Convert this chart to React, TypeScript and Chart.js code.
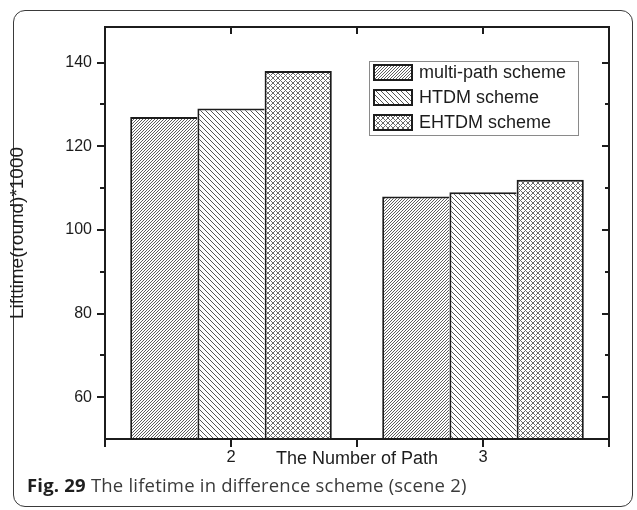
import { useEffect, useRef } from "react";
import { Chart, registerables } from "chart.js";

Chart.register(...registerables);

// ---- data ----
const categories = ["2", "3"];
const seriesNames = ["multi-path scheme", "HTDM scheme", "EHTDM scheme"];
const multiPathValues = [127, 108];
const htdmValues = [129, 109];
const ehtdmValues = [138, 112];
const yMajorTicks = [60, 80, 100, 120, 140];
const yMinorTicks = [70, 90, 110, 130];
const xTickValues = [1.5, 2, 2.5, 3, 3.5];
const xTopTickValues = [2, 2.5, 3];

const FONT = '"Liberation Sans", Arial, sans-serif';
const INK = "#1c1c1c";

function makePattern(kind: "fwd" | "back" | "cross", period: number, gray: number) {
  const c = document.createElement("canvas");
  c.width = period;
  c.height = period;
  const g = c.getContext("2d")!;
  const img = g.createImageData(period, period);
  for (let y = 0; y < period; y++) {
    for (let x = 0; x < period; x++) {
      const f = (x + y) % period === 0;
      const b = (((x - y) % period) + period) % period === 0;
      const on = kind === "fwd" ? f : kind === "back" ? b : f || b;
      const i = (y * period + x) * 4;
      const v = on ? gray : 255;
      img.data[i] = v;
      img.data[i + 1] = v;
      img.data[i + 2] = v;
      img.data[i + 3] = 255;
    }
  }
  g.putImageData(img, 0, 0);
  return g.createPattern(c, "repeat") as CanvasPattern;
}

const framePlugin = {
  id: "originFrame",
  afterDatasetsDraw(chart: any) {
    const { ctx, chartArea: a, scales } = chart;
    const y = scales.y;
    const xt = scales.xt;
    ctx.save();
    ctx.strokeStyle = INK;
    ctx.lineWidth = 2;
    ctx.strokeRect(a.left, a.top, a.right - a.left, a.bottom - a.top);
    ctx.beginPath();
    yMajorTicks.forEach((v) => {
      const p = Math.round(y.getPixelForValue(v));
      ctx.moveTo(a.left - 8, p);
      ctx.lineTo(a.left, p);
      ctx.moveTo(a.right, p);
      ctx.lineTo(a.right - 7, p);
    });
    yMinorTicks.forEach((v) => {
      const p = Math.round(y.getPixelForValue(v));
      ctx.moveTo(a.left - 5, p);
      ctx.lineTo(a.left, p);
      ctx.moveTo(a.right, p);
      ctx.lineTo(a.right - 4, p);
    });
    xTickValues.forEach((v) => {
      const p = Math.round(xt.getPixelForValue(v));
      ctx.moveTo(p, a.bottom);
      ctx.lineTo(p, a.bottom + 8);
    });
    xTopTickValues.forEach((v) => {
      const p = Math.round(xt.getPixelForValue(v));
      ctx.moveTo(p, a.top);
      ctx.lineTo(p, a.top + 7);
    });
    ctx.stroke();
    ctx.restore();
  },
};

const boxLegendPlugin = {
  id: "boxLegend",
  afterDraw(chart: any) {
    const { ctx, chartArea: a } = chart;
    const bx = a.left + 264;
    const by = a.top + 34;
    const bw = 209;
    const bh = 74;
    ctx.save();
    ctx.strokeStyle = "#8a8a8a";
    ctx.lineWidth = 1;
    ctx.fillStyle = "#ffffff";
    ctx.fillRect(bx, by, bw, bh);
    ctx.strokeRect(bx + 0.5, by + 0.5, bw, bh);
    chart.data.datasets.forEach((ds: any, i: number) => {
      const sy = by + 3 + i * 25;
      const sx = bx + 4;
      ctx.fillStyle = ds.backgroundColor;
      ctx.fillRect(sx, sy, 40, 17);
      ctx.strokeStyle = INK;
      ctx.lineWidth = 2;
      ctx.strokeRect(sx + 1, sy + 1, 38, 15);
      ctx.fillStyle = INK;
      ctx.font = `18px ${FONT}`;
      ctx.textBaseline = "middle";
      ctx.textAlign = "left";
      ctx.fillText(ds.label, bx + 50, sy + 9.5);
    });
    ctx.restore();
  },
};

export default function App() {
  const canvasRef = useRef<HTMLCanvasElement>(null);

  useEffect(() => {
    const canvas = canvasRef.current!;
    const patterns = [
      makePattern("fwd", 3, 95),
      makePattern("back", 5, 85),
      makePattern("cross", 5, 105),
    ];
    const values = [multiPathValues, htdmValues, ehtdmValues];
    const chart = new Chart(canvas, {
      type: "bar",
      data: {
        labels: categories,
        datasets: seriesNames.map((name, i) => ({
          label: name,
          data: values[i],
          backgroundColor: patterns[i],
          borderColor: INK,
          borderWidth:
            i === seriesNames.length - 1
              ? { top: 2, left: 2, right: 2, bottom: 0 }
              : { top: 2, left: 2, right: 0, bottom: 0 },
          borderSkipped: "bottom",
          inflateAmount: 0,
          categoryPercentage: 0.8,
          barPercentage: 1.0,
          xAxisID: "x",
          yAxisID: "y",
        })),
      },
      options: {
        responsive: false,
        animation: false,
        events: [],
        layout: { padding: { top: 27, right: 28, bottom: 31, left: 0 } },
        plugins: {
          legend: { display: false },
          tooltip: { enabled: false },
        },
        scales: {
          x: {
            type: "category",
            display: false,
            offset: true,
          },
          xt: {
            type: "linear",
            position: "bottom",
            offset: false,
            min: 1.5,
            max: 3.5,
            afterBuildTicks: (scale: any) => {
              scale.ticks = xTickValues.map((v) => ({ value: v }));
            },
            afterFit: (scale: any) => {
              scale.height = 40;
            },
            grid: { display: false, drawTicks: false, offset: false },
            border: { display: false },
            ticks: {
              autoSkip: false,
              maxRotation: 0,
              padding: 9,
              color: INK,
              font: { family: FONT, size: 16.5 },
              callback: (v: any) => (categories.includes(String(v)) ? String(v) : ""),
            },
            title: {
              display: true,
              text: "The Number of Path",
              color: INK,
              font: { family: FONT, size: 18 },
              padding: { top: 0, bottom: 9 },
            },
          },
          y: {
            type: "linear",
            position: "left",
            min: 50,
            max: 148.5,
            afterBuildTicks: (scale: any) => {
              scale.ticks = yMajorTicks.map((v) => ({ value: v }));
            },
            afterFit: (scale: any) => {
              scale.width = 105;
            },
            grid: { display: false, drawTicks: false },
            border: { display: false },
            ticks: {
              padding: 13,
              color: INK,
              font: { family: FONT, size: 16 },
            },
            title: {
              display: true,
              text: "Lifttime(round)*1000",
              color: INK,
              font: { family: FONT, size: 19 },
              padding: { top: 6, bottom: 0 },
            },
          },
        },
      } as any,
      plugins: [framePlugin, boxLegendPlugin],
    });
    return () => chart.destroy();
  }, []);

  return (
    <div
      style={{
        position: "fixed",
        left: 0,
        top: 0,
        width: 637,
        height: 510,
        background: "#ffffff",
        overflow: "hidden",
      }}
    >
      <div
        style={{
          position: "absolute",
          left: 13,
          top: 10,
          width: 620,
          height: 497,
          boxSizing: "border-box",
          border: "1.5px solid #3a3a3a",
          borderRadius: 12,
        }}
      />
      <canvas
        ref={canvasRef}
        width={637}
        height={510}
        style={{ position: "absolute", left: 0, top: 0, width: 637, height: 510 }}
      />
      <div
        style={{
          position: "absolute",
          left: 27,
          top: 475,
          font: '18.5px "Open Sans", sans-serif',
          letterSpacing: "0.2px",
          lineHeight: "20px",
          color: "#3a3a3a",
          whiteSpace: "nowrap",
        }}
      >
        <b style={{ fontWeight: 700, color: "#1e1e1e" }}>Fig. 29</b> The lifetime in difference scheme (scene 2)
      </div>
    </div>
  );
}
